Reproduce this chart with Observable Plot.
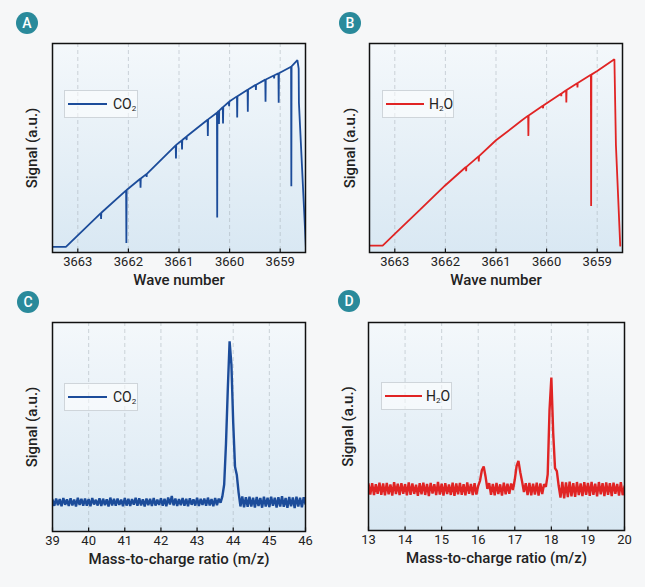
<!DOCTYPE html>
<html>
<head>
<meta charset="utf-8">
<script src="https://cdn.jsdelivr.net/npm/d3@7"></script>
<script src="https://cdn.jsdelivr.net/npm/@observablehq/plot@0.6"></script>
<style>
  html, body { margin: 0; padding: 0; background: #f6f7f8; }
  #root { position: relative; width: 645px; height: 587px; font-family: Roboto, sans-serif; color: #222; }
  .panel { position: absolute; }
  .badge { position: absolute; width: 22px; height: 22px; border-radius: 50%; background: #2a8a9b; color: #fff;
           font: 500 14px Roboto, sans-serif; text-align: center; line-height: 22px; }
  .legend { position: absolute; box-sizing: border-box; border: 1px solid #cfd5da; background: rgba(255,255,255,0.55);
            font: 400 14px Roboto, sans-serif; color: #222; }
  .legend .sw { position: absolute; height: 0; border-top: 2px solid; }
  .legend .lab { position: absolute; line-height: 16px; white-space: nowrap; }
  .legend sub { font-size: 8px; vertical-align: -2px; }
</style>
</head>
<body>
<div id="root"></div>
<script>
// ---------- data ----------
const irTicks = [3663, 3662, 3661, 3660, 3659];
const irDomain = [3663.5, 3658.5];
const co2Ticks = [39, 40, 41, 42, 43, 44, 45, 46];
const h2oTicks = [13, 14, 15, 16, 17, 18, 19, 20];

// Panel A: CO2 absorption spectrum [wave number, signal]
const co2IR = [
  [3663.50, 2.7], [3663.235, 2.7],
  [3662.545, 18.8], [3662.54, 16.0], [3662.535, 19.0],
  [3662.045, 29.7], [3662.04, 4.5], [3662.035, 29.9],
  [3661.765, 35.3], [3661.76, 31.0], [3661.755, 35.4],
  [3661.645, 37.5], [3661.64, 36.2], [3661.635, 37.6],
  [3661.065, 51.3], [3661.06, 45.0], [3661.055, 51.5],
  [3660.945, 53.6], [3660.94, 49.3], [3660.935, 53.8],
  [3660.855, 55.4], [3660.85, 53.8], [3660.845, 55.6],
  [3660.435, 63.5], [3660.43, 55.7], [3660.425, 63.7],
  [3660.25, 66.9], [3660.245, 16.7], [3660.24, 67.1],
  [3660.215, 67.7], [3660.21, 61.5], [3660.205, 67.9],
  [3660.135, 69.5], [3660.13, 61.7], [3660.125, 69.7],
  [3660.015, 72.0], [3660.01, 70.0], [3660.005, 72.2],
  [3659.855, 74.7], [3659.85, 64.6], [3659.845, 74.8],
  [3659.645, 77.9], [3659.64, 67.3], [3659.635, 78.0],
  [3659.485, 80.2], [3659.48, 77.8], [3659.475, 80.3],
  [3659.295, 82.7], [3659.29, 72.1], [3659.285, 82.8],
  [3659.125, 84.7], [3659.12, 83.3], [3659.115, 84.8],
  [3659.035, 85.7], [3659.03, 71.6], [3659.025, 85.8],
  [3658.785, 88.9], [3658.78, 31.7], [3658.775, 89.1],
  [3658.66, 92.0], [3658.635, 88.0], [3658.63, 71.6], [3658.49, 1.5]
];

// Panel B: H2O absorption spectrum [wave number, signal]
const h2oIR = [
  [3663.50, 3.3], [3663.24, 3.3],
  [3663.0, 8.9], [3662.5, 20.5],
  [3662.0, 32.2],
  [3661.595, 40.9], [3661.59, 38.9], [3661.585, 41.0],
  [3661.345, 46.0], [3661.34, 43.6], [3661.335, 46.1],
  [3661.0, 53.7],
  [3660.5, 63.0],
  [3660.365, 65.5], [3660.36, 55.8], [3660.355, 65.6],
  [3660.075, 70.2], [3660.07, 69.0], [3660.065, 70.3],
  [3659.715, 76.0], [3659.71, 74.8], [3659.705, 76.1],
  [3659.615, 77.6], [3659.61, 71.8], [3659.605, 77.7],
  [3659.395, 81.0], [3659.39, 79.0], [3659.385, 81.1],
  [3659.125, 85.0], [3659.12, 22.3], [3659.115, 85.1],
  [3659.0, 86.8],
  [3658.66, 92.5], [3658.63, 51.4], [3658.545, 3.3]
];

// Panels C and D: mass spectra, sampled every 0.05 m/z
const msStep = 0.05;
const co2MSStart = 39;
const co2MS = [
  15.2, 12.3, 15.8, 12.6, 15.5, 12.1, 16.0, 12.8, 15.4, 12.2,
  15.9, 12.5, 15.3, 12.0, 16.1, 12.7, 15.6, 12.3, 15.8, 12.4,
  15.5, 12.1, 16.0, 12.9, 15.2, 12.4, 15.9, 12.2, 15.7, 12.6,
  15.4, 12.0, 16.2, 12.5, 15.6, 12.3, 15.8, 12.7, 15.3, 12.1,
  16.0, 12.4, 15.7, 12.2, 15.5, 12.8, 16.1, 12.3, 15.9, 12.5,
  15.4, 12.0, 15.8, 12.6, 15.6, 12.2, 16.0, 12.4, 15.3, 12.7,
  15.9, 12.3, 15.6, 12.1, 16.3, 12.9, 17.0, 12.5, 15.8, 12.2,
  15.5, 12.6, 16.0, 12.3, 15.7, 12.1, 15.9, 12.8, 15.4, 12.4,
  16.1, 12.2, 15.6, 12.7, 15.8, 12.3, 16.2, 12.5, 15.5, 12.1,
  16.0, 12.6, 15.7, 13.8, 16.8, 22.5, 42.0, 68.0, 91.0, 80.0,
  52.0, 31.0, 27.0, 18.5, 12.0, 16.8, 11.6, 16.4, 11.8, 16.6,
  12.0, 16.2, 11.5, 16.5, 12.2, 16.0, 11.4, 16.7, 11.9, 16.1,
  11.7, 16.6, 12.3, 16.2, 11.5, 16.4, 12.0, 16.9, 11.8, 16.0,
  11.3, 16.5, 12.1, 16.3, 11.2, 16.7, 11.9, 16.1, 11.6, 16.4,
  13.2
];
const h2oMSStart = 13;
const h2oMS = [
  22.4, 17.3, 22.8, 17.0, 22.2, 17.6, 23.0, 17.1, 22.6, 16.9,
  22.9, 17.4, 22.1, 16.8, 23.2, 17.5, 22.5, 17.0, 22.7, 17.7,
  22.3, 16.9, 23.1, 17.2, 22.6, 17.6, 22.0, 16.7, 22.8, 17.4,
  23.0, 17.1, 22.4, 16.6, 22.9, 17.8, 22.2, 17.0, 23.3, 17.3,
  22.5, 16.8, 22.8, 17.5, 22.1, 17.1, 23.0, 16.7, 22.6, 17.4,
  22.9, 17.2, 22.3, 16.9, 23.1, 17.6, 22.4, 17.0, 22.7, 17.3,
  21.5, 24.0, 29.0, 30.8, 26.0, 20.0, 22.8, 17.2, 22.4, 16.9,
  22.9, 17.5, 22.2, 16.8, 23.0, 17.4, 22.5, 17.7, 22.6, 19.5,
  24.5, 31.0, 33.5, 28.0, 23.5, 18.5, 22.7, 17.0, 22.9, 16.9,
  22.5, 17.3, 23.0, 16.8, 22.6, 17.5, 22.2, 21.0, 27.0, 58.0,
  73.5, 47.0, 30.0, 28.5, 21.5, 15.8, 23.4, 15.5, 23.1, 16.0,
  23.5, 16.4, 22.8, 16.2, 23.3, 17.0, 22.6, 16.5, 23.2, 17.2,
  22.9, 16.7, 23.4, 17.1, 22.5, 16.4, 23.3, 17.4, 22.8, 16.6,
  23.1, 17.2, 22.7, 16.5, 23.0, 17.6, 22.4, 16.8, 23.2, 17.0,
  21.2
];

const blue = "#1c4c9a";
const red = "#e02424";

const toRows = (pairs) => pairs.map(([x, y]) => ({x, y}));
const msRows = (start, vals) => vals.map((y, i) => ({x: +(start + i * msStep).toFixed(3), y}));

// ---------- layout ----------
const panels = [
  {letter: "A", left: 0, top: 0, w: 320, h: 293, fx0: 52, fx1: 305, fy0: 43, fy1: 252,
   data: toRows(co2IR), domain: irDomain, ticks: irTicks, color: blue, xLabel: "Wave number", sw: 1.8,
   badge: [27, 23], legend: {x: 64, y: 90, w: 74, h: 28, l0: 3, l1: 42, t: 48}, name: "CO<sub>2</sub>", ylab: 32},
  {letter: "B", left: 320, top: 0, w: 325, h: 293, fx0: 369, fx1: 622, fy0: 43, fy1: 252,
   data: toRows(h2oIR), domain: irDomain, ticks: irTicks, color: red, xLabel: "Wave number", sw: 1.8,
   badge: [350, 23], legend: {x: 382, y: 90, w: 72, h: 28, l0: 3, l1: 41, t: 46}, name: "H<sub>2</sub>O", ylab: 350},
  {letter: "C", left: 0, top: 290, w: 320, h: 297, fx0: 52, fx1: 305, fy0: 322, fy1: 531,
   data: msRows(co2MSStart, co2MS), domain: [39, 46], ticks: co2Ticks, color: blue, xLabel: "Mass-to-charge ratio (m/z)", sw: 2.4,
   badge: [28, 302], legend: {x: 64, y: 383, w: 74, h: 28, l0: 3, l1: 42, t: 48}, name: "CO<sub>2</sub>", ylab: 32},
  {letter: "D", left: 320, top: 290, w: 325, h: 297, fx0: 368, fx1: 624, fy0: 322, fy1: 530,
   data: msRows(h2oMSStart, h2oMS), domain: [13, 20], ticks: h2oTicks, color: red, xLabel: "Mass-to-charge ratio (m/z)", sw: 2.4,
   badge: [349, 301], legend: {x: 381, y: 382, w: 71, h: 28, l0: 3, l1: 40, t: 44}, name: "H<sub>2</sub>O", ylab: 348}
];

const root = document.getElementById("root");

function gradientMark(id) {
  return (index, scales, values, dims) => {
    const ns = "http://www.w3.org/2000/svg";
    const g = document.createElementNS(ns, "g");
    const x = dims.marginLeft, y = dims.marginTop;
    const w = dims.width - dims.marginLeft - dims.marginRight;
    const h = dims.height - dims.marginTop - dims.marginBottom;
    g.innerHTML = `<defs><linearGradient id="${id}" x1="0" y1="0" x2="0" y2="1">
      <stop offset="0" stop-color="#f4f8fb"/><stop offset="1" stop-color="#d9e8f3"/></linearGradient></defs>
      <rect x="${x}" y="${y}" width="${w}" height="${h}" fill="url(#${id})"/>`;
    return g;
  };
}

panels.forEach((p, i) => {
  const ml = p.fx0 - p.left, mr = p.left + p.w - p.fx1;
  const mt = p.fy0 - p.top, mb = p.top + p.h - p.fy1;
  const chart = Plot.plot({
    width: p.w, height: p.h,
    marginLeft: ml, marginRight: mr, marginTop: mt, marginBottom: mb,
    x: {domain: p.domain},
    y: {domain: [0, 100], axis: null},
    style: {background: "transparent", fontFamily: "Roboto, sans-serif", fontSize: "13px", color: "#222", overflow: "visible"},
    marks: [
      gradientMark("grad" + i),
      Plot.gridX(p.ticks, {stroke: "#9aa4ad", strokeOpacity: 0.55, strokeDasharray: "4,3", strokeWidth: 0.8}),
      Plot.line(p.data, {x: "x", y: "y", stroke: p.color, strokeWidth: p.sw, strokeLinejoin: "miter", clip: true}),
      Plot.ruleX(p.ticks, {y1: 0, y2: 1.7, stroke: "#111", strokeWidth: 1.2}),
      Plot.frame({stroke: "#111", strokeWidth: 1.5}),
      Plot.axisX({ticks: p.ticks, tickSize: 0, tickPadding: 4, tickFormat: d => String(d), label: null, fontSize: 13}),
      Plot.text([p.xLabel], {text: d => d, frameAnchor: "bottom", lineAnchor: "middle", textAnchor: "middle",
        dy: 28, fontSize: 15, fontWeight: 500, fill: "#222"}),
      Plot.text(["Signal (a.u.)"], {text: d => d, frameAnchor: "left", lineAnchor: "middle", textAnchor: "middle",
        dx: p.ylab - p.fx0, rotate: -90, fontSize: 15, fontWeight: 500, fill: "#222"})
    ]
  });
  const wrap = document.createElement("div");
  wrap.className = "panel";
  wrap.style.left = p.left + "px";
  wrap.style.top = p.top + "px";
  wrap.appendChild(chart);
  root.appendChild(wrap);

  const b = document.createElement("div");
  b.className = "badge";
  b.textContent = p.letter;
  b.style.left = (p.badge[0] - 11) + "px";
  b.style.top = (p.badge[1] - 11) + "px";
  root.appendChild(b);

  const L = p.legend;
  const lg = document.createElement("div");
  lg.className = "legend";
  lg.style.left = L.x + "px"; lg.style.top = L.y + "px";
  lg.style.width = L.w + "px"; lg.style.height = L.h + "px";
  lg.innerHTML = `<div class="sw" style="left:${L.l0}px;width:${L.l1 - L.l0}px;top:${L.h / 2 - 2}px;border-color:${p.color}"></div>
    <div class="lab" style="left:${L.t}px;top:${L.h / 2 - 9}px">${p.name}</div>`;
  root.appendChild(lg);
});
</script>
</body>
</html>
